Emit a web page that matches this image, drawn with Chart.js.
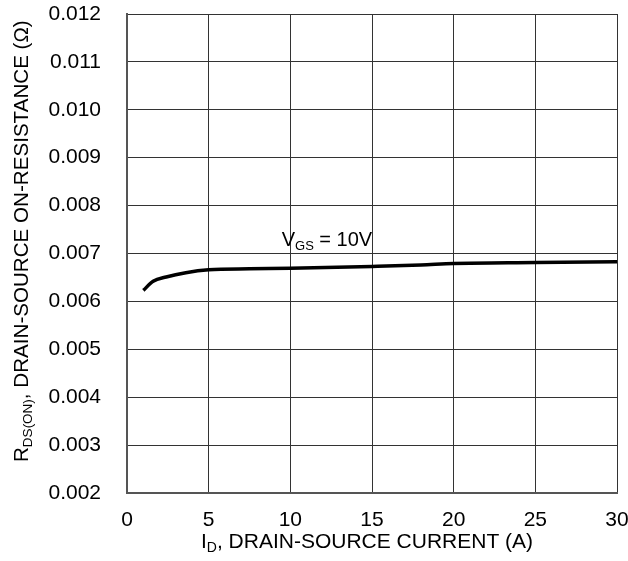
<!DOCTYPE html>
<html>
<head>
<meta charset="utf-8">
<script src="https://cdn.jsdelivr.net/npm/chart.js@4"></script>
<style>
  html, body { margin: 0; padding: 0; background: #fff; }
  #wrap { width: 628px; height: 561px; }
</style>
</head>
<body>
<div id="wrap"><canvas id="myChart" width="628" height="561"></canvas></div>
<script>
// drain current (A) and on-resistance (ohm)
const currentA = [1, 1.6, 2.4, 3.6, 5, 7.5, 10, 15, 18, 20, 25, 30];
const rdsOn = [0.00623, 0.00642, 0.00651, 0.00660, 0.00666, 0.00668, 0.00669, 0.00673, 0.00676, 0.00679, 0.00681, 0.00683];

const xTicks = [0, 5, 10, 15, 20, 25, 30];
const yTicks = [0.002, 0.003, 0.004, 0.005, 0.006, 0.007, 0.008, 0.009, 0.010, 0.011, 0.012];

// curve label, anchored in data units
const curveLabel = [{ t: 'V' }, { t: 'GS', sub: true }, { t: ' = 10V' }];
const curveLabelAt = { x: 9.47, y: 0.00715 };

const xTitle = [{ t: 'I' }, { t: 'D', sub: true }, { t: ', DRAIN-SOURCE CURRENT (A)' }];
const yTitle = [{ t: 'R' }, { t: 'DS(ON)', sub: true }, { t: ', DRAIN-SOURCE ON-RESISTANCE (\u03A9)' }];

const FONT = '"Liberation Sans", Arial, Helvetica, sans-serif';

// draws text with subscripts, left aligned from (x, y) baseline
function drawRich(ctx, parts, x, y, size, subSize) {
  let cx = x;
  ctx.textBaseline = 'alphabetic';
  ctx.textAlign = 'left';
  parts.forEach(function (p) {
    ctx.font = (p.sub ? subSize : size) + 'px ' + FONT;
    ctx.fillText(p.t, cx, y + (p.sub ? 4 : 0));
    cx += ctx.measureText(p.t).width;
  });
}

const labelsPlugin = {
  id: 'labels',
  afterDraw(chart) {
    const ctx = chart.ctx;
    const xs = chart.scales.x;
    const ys = chart.scales.y;
    ctx.save();
    ctx.fillStyle = '#000';
    drawRich(ctx, curveLabel, xs.getPixelForValue(curveLabelAt.x), ys.getPixelForValue(curveLabelAt.y), 20, 13);
    drawRich(ctx, xTitle, 201, 548, 21, 14);
    ctx.translate(28, 462);
    ctx.rotate(-Math.PI / 2);
    drawRich(ctx, yTitle, 0, 0, 20.6, 13.5);
    ctx.restore();
  }
};

const points = currentA.map(function (v, i) { return { x: v, y: rdsOn[i] }; });

new Chart(document.getElementById('myChart'), {
  type: 'line',
  data: {
    datasets: [{
      data: points,
      borderColor: '#000',
      borderWidth: 3.5,
      pointRadius: 0,
      fill: false,
      cubicInterpolationMode: 'monotone'
    }]
  },
  options: {
    responsive: false,
    animation: false,
    layout: { padding: { left: 0, right: 11, top: 14, bottom: 0 } },
    plugins: { legend: { display: false }, tooltip: { enabled: false } },
    scales: {
      x: {
        type: 'linear',
        min: xTicks[0],
        max: xTicks[xTicks.length - 1],
        afterBuildTicks(s) { s.ticks = xTicks.map(function (v) { return { value: v }; }); },
        afterFit(s) { s.height = 68; s.paddingLeft = 0; s.paddingRight = 0; },
        ticks: { color: '#000', font: { family: FONT, size: 21 }, padding: 15, maxRotation: 0 },
        grid: { color: '#333', lineWidth: 1, drawTicks: false },
        border: { color: '#555', width: 2 }
      },
      y: {
        type: 'linear',
        min: yTicks[0],
        max: yTicks[yTicks.length - 1],
        afterBuildTicks(s) { s.ticks = yTicks.map(function (v) { return { value: v }; }); },
        afterFit(s) { s.width = 127; s.paddingTop = 0; s.paddingBottom = 0; },
        ticks: {
          color: '#000', font: { family: FONT, size: 21 }, padding: 26,
          callback: function (v) { return v.toFixed(3); }
        },
        grid: { color: '#333', lineWidth: 1, drawTicks: false },
        border: { color: '#555', width: 2 }
      }
    }
  },
  plugins: [labelsPlugin]
});
</script>
</body>
</html>
